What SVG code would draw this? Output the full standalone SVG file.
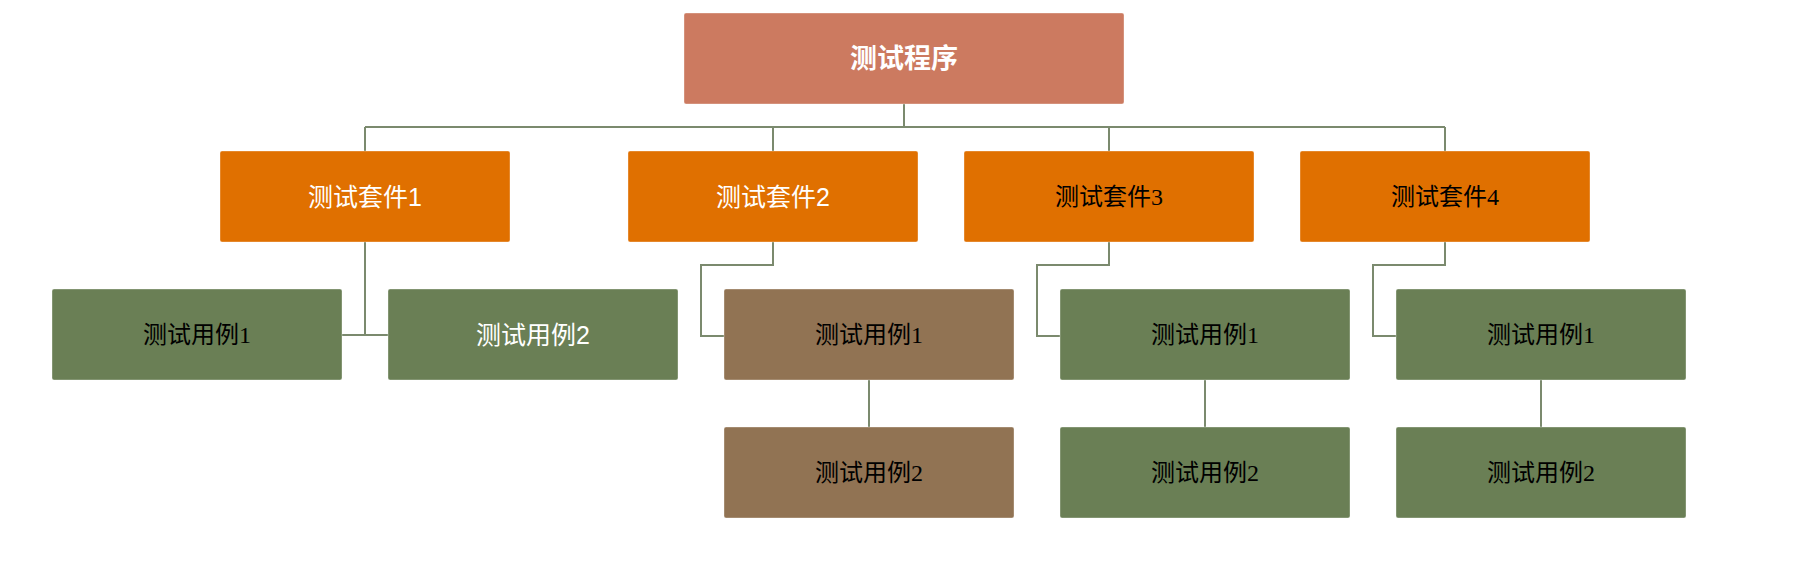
<svg xmlns="http://www.w3.org/2000/svg" width="1804" height="567" viewBox="0 0 1804 567">
<style>
.box{stroke:#ffffff;stroke-opacity:0.35;stroke-width:1}
.top{fill:#CC7A60}
.suite{fill:#E07000}
.green{fill:#6A7F55}
.brown{fill:#917353}
.t{text-anchor:middle;dominant-baseline:central}
.w{fill:#ffffff;font-size:25px;font-family:"Liberation Sans","Noto Sans CJK SC",sans-serif}
.k{fill:#000000;font-size:24px;font-family:"Liberation Serif","Noto Sans CJK SC",serif}
.b{font-weight:bold;font-size:27px}
.conn{fill:none;stroke:#7B8A6E;stroke-width:2}
</style>
<rect width="1804" height="567" fill="#ffffff"/>
<g id="connectors" class="conn">
<path d="M904,104 V127 M365,127 H1445 M365,127 V151 M773,127 V151 M1109,127 V151 M1445,127 V151"/>
<path d="M365,242 V335 M342,335 H388"/>
<path d="M773,242 V265 H701 V336 H724"/>
<path d="M1109,242 V265 H1037 V336 H1060"/>
<path d="M1445,242 V265 H1373 V336 H1396"/>
<path d="M869,380 V427 M1205,380 V427 M1541,380 V427"/>
</g>
<g id="root"><rect class="box top" x="684" y="13" width="440" height="91" rx="2"/><text class="t w b" x="904" y="59">测试程序</text></g>
<g id="suite1"><rect class="box suite" x="220" y="151" width="290" height="91" rx="2"/><text class="t w" x="365" y="197">测试套件1</text></g>
<g id="suite2"><rect class="box suite" x="628" y="151" width="290" height="91" rx="2"/><text class="t w" x="773" y="197">测试套件2</text></g>
<g id="suite3"><rect class="box suite" x="964" y="151" width="290" height="91" rx="2"/><text class="t k" x="1109" y="197">测试套件3</text></g>
<g id="suite4"><rect class="box suite" x="1300" y="151" width="290" height="91" rx="2"/><text class="t k" x="1445" y="197">测试套件4</text></g>
<g id="s1case1"><rect class="box green" x="52" y="289" width="290" height="91" rx="2"/><text class="t k" x="197" y="335">测试用例1</text></g>
<g id="s1case2"><rect class="box green" x="388" y="289" width="290" height="91" rx="2"/><text class="t w" x="533" y="335">测试用例2</text></g>
<g id="s2case1"><rect class="box brown" x="724" y="289" width="290" height="91" rx="2"/><text class="t k" x="869" y="335">测试用例1</text></g>
<g id="s2case2"><rect class="box brown" x="724" y="427" width="290" height="91" rx="2"/><text class="t k" x="869" y="473">测试用例2</text></g>
<g id="s3case1"><rect class="box green" x="1060" y="289" width="290" height="91" rx="2"/><text class="t k" x="1205" y="335">测试用例1</text></g>
<g id="s3case2"><rect class="box green" x="1060" y="427" width="290" height="91" rx="2"/><text class="t k" x="1205" y="473">测试用例2</text></g>
<g id="s4case1"><rect class="box green" x="1396" y="289" width="290" height="91" rx="2"/><text class="t k" x="1541" y="335">测试用例1</text></g>
<g id="s4case2"><rect class="box green" x="1396" y="427" width="290" height="91" rx="2"/><text class="t k" x="1541" y="473">测试用例2</text></g>
</svg>
